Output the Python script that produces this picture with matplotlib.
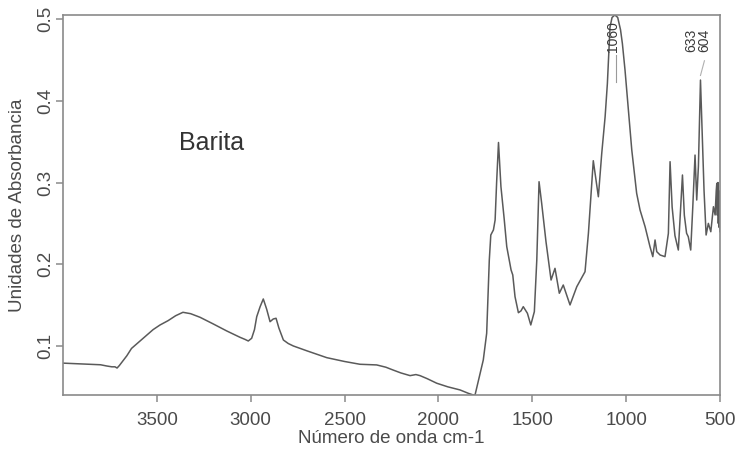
import matplotlib
matplotlib.use("Agg")
import matplotlib.pyplot as plt

# FTIR spectrum of barite sample (absorbance vs wavenumber)
wavenumber = [
    4000, 3950, 3900, 3850, 3800, 3767, 3740, 3723, 3712, 3700, 3688, 3660, 3635,
    3600, 3560, 3520, 3483, 3440, 3400, 3361, 3320, 3270, 3200, 3128, 3057, 3030,
    3013, 2995, 2980, 2968, 2950, 2933, 2915, 2897, 2880, 2865, 2850, 2826, 2800,
    2773, 2700, 2595, 2500, 2418, 2329, 2280, 2242, 2200, 2151, 2120, 2098, 2060,
    2009, 1950, 1885, 1840, 1814, 1805, 1761, 1743, 1729, 1721, 1707, 1698, 1690,
    1680, 1667, 1650, 1636, 1613, 1604, 1592, 1574, 1560, 1548, 1526, 1508, 1489,
    1476, 1464, 1450, 1427, 1400, 1379, 1356, 1335, 1299, 1263, 1219, 1201, 1175,
    1148, 1130, 1112, 1100, 1086, 1075, 1060, 1045, 1030, 1020, 1006, 988, 970,
    944, 926, 899, 873, 858, 846, 837, 819, 793, 775, 766, 755, 740, 722, 700,
    690, 678, 669, 656, 645, 633, 624, 615, 604, 595, 585, 574, 562, 549, 535,
    526, 520, 517, 514, 511, 509, 506, 504, 502, 500,
]
absorbance = [
    0.079, 0.0785, 0.078, 0.0775, 0.077, 0.0755, 0.0745, 0.0745, 0.073, 0.076,
    0.0796, 0.088, 0.097, 0.104, 0.112, 0.120, 0.1257, 0.131, 0.137, 0.1412,
    0.1395, 0.1351, 0.127, 0.1184, 0.1106, 0.108, 0.1061, 0.1094, 0.120, 0.1358,
    0.148, 0.1575, 0.145, 0.1297, 0.133, 0.1339, 0.122, 0.1073, 0.103, 0.100,
    0.094, 0.0857, 0.081, 0.0776, 0.0768, 0.074, 0.0706, 0.067, 0.0637, 0.065,
    0.0637, 0.060, 0.0544, 0.050, 0.0462, 0.042, 0.040, 0.040, 0.0829, 0.1155,
    0.2052, 0.2358, 0.242, 0.2541, 0.300, 0.349, 0.2949, 0.2562, 0.2215, 0.193,
    0.1869, 0.1603, 0.1407, 0.143, 0.1481, 0.140, 0.1257, 0.142, 0.2052, 0.301,
    0.2746, 0.2276, 0.1807, 0.195, 0.1645, 0.1746, 0.1502, 0.1725, 0.1909, 0.2379,
    0.3267, 0.2826, 0.3357, 0.3805, 0.421, 0.490, 0.502, 0.505, 0.502, 0.487,
    0.470, 0.4376, 0.389, 0.3398, 0.2868, 0.2664, 0.2459, 0.2215, 0.2093, 0.2297,
    0.2154, 0.2113, 0.2093, 0.2378, 0.3255, 0.270, 0.235, 0.2174, 0.3092, 0.260,
    0.2379, 0.2337, 0.2174, 0.270, 0.3336, 0.2786, 0.320, 0.4254, 0.360, 0.290,
    0.2358, 0.250, 0.2398, 0.2704, 0.2603, 0.290, 0.299, 0.260, 0.300, 0.250,
    0.290, 0.245, 0.280, 0.240,
]

# labelled bands
peak_labels = ["1060", "633", "604"]
peak_positions = [1060, 633, 604]

x_ticks = [3500, 3000, 2500, 2000, 1500, 1000, 500]
y_ticks = [0.1, 0.2, 0.3, 0.4, 0.5]
y_tick_labels = ["0.1", "0.2", "0.3", "0.4", "0.5"]

plt.rcParams["font.family"] = ["Liberation Sans", "DejaVu Sans"]

frame_col = "#8a8a8a"
text_col = "#4a4a4a"
line_col = "#5a5a5a"

fig = plt.figure(figsize=(7.39, 4.49), dpi=100)
ax = fig.add_axes([63 / 739, 1 - 395 / 449, 657 / 739, 380 / 449])

ax.plot(wavenumber, absorbance, color=line_col, lw=1.1)

ax.set_xlim(4000, 500)
ax.set_ylim(0.04, 0.505)

ax.set_xticks(x_ticks)
ax.set_xticklabels([str(t) for t in x_ticks])
ax.set_yticks(y_ticks)
ax.set_yticklabels(y_tick_labels, rotation=90, va="center")

for s in ax.spines.values():
    s.set_color(frame_col)
    s.set_linewidth(1.2)

ax.tick_params(axis="both", direction="out", length=5, width=1.1,
               color=frame_col, labelcolor=text_col, labelsize=13.5)
ax.tick_params(axis="x", pad=7)
ax.tick_params(axis="y", pad=1.5)

ax.set_xlabel("Número de onda cm-1", fontsize=13.5, color=text_col)
ax.set_ylabel("Unidades de Absorbancia", fontsize=13.5, color=text_col)
ax.xaxis.set_label_coords(0.5, -0.093)
ax.yaxis.set_label_coords(-0.056, 0.5)

ax.text(3211, 0.348, "Barita", fontsize=18, color="#333333",
        ha="center", va="center")

# peak annotations (rotated labels near the top of the frame)
label_offsets = [-2, -4, 4]
label_tops = [0.985, 0.965, 0.965]
for lab, pos, dx, top in zip(peak_labels, peak_positions, label_offsets, label_tops):
    ax.annotate(lab, xy=(pos, top), xycoords=("data", "axes fraction"),
                xytext=(dx, 0), textcoords="offset pixels",
                rotation=90, ha="center", va="top", fontsize=10,
                color="#3a3a3a")

# leader marks below the labels
ax.plot([1052, 1052], [0.456, 0.423], color="#9a9a9a", lw=0.8)
ax.plot([583, 604], [0.449, 0.431], color="#b0b0b0", lw=0.8)

fig.savefig("out.png", dpi=100)
